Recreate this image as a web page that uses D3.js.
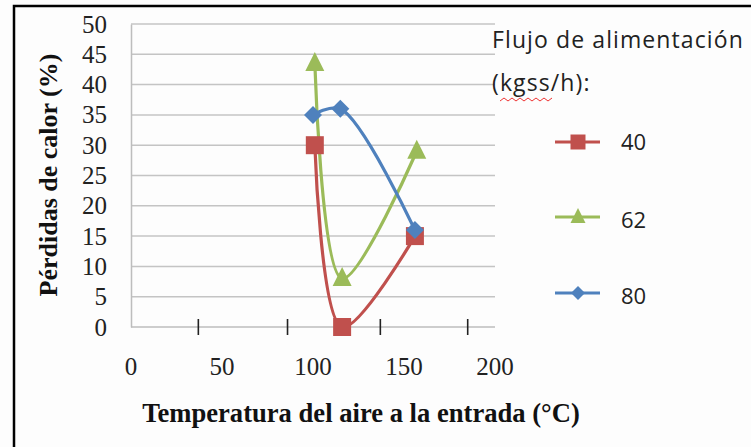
<!DOCTYPE html>
<html><head><meta charset="utf-8">
<script src="https://cdn.jsdelivr.net/npm/d3@7"></script>
<style>
html,body{margin:0;padding:0;background:#fff;}
svg{display:block;}
</style></head>
<body>
<svg id="chart" width="751" height="447"></svg>
<script>
const seriesNames = ["40", "62", "80"];
const xValues40 = [101, 116, 156];
const yValues40 = [30, 0, 15];
const xValues62 = [101, 116, 157];
const yValues62 = [43.5, 8, 29];
const xValues80 = [100, 115, 156];
const yValues80 = [35, 36, 16];
const xTickLabels = [0, 50, 100, 150, 200];
const xTickMarks = [37, 86, 137, 185];
const yTickLabels = [0, 5, 10, 15, 20, 25, 30, 35, 40, 45, 50];
const colors = ["#C0504D", "#9BBB59", "#4F81BD"];
const markers = ["square", "triangle", "diamond"];

const series = [
  {name: seriesNames[0], pts: xValues40.map((x,i)=>({x, y: yValues40[i]}))},
  {name: seriesNames[1], pts: xValues62.map((x,i)=>({x, y: yValues62[i]}))},
  {name: seriesNames[2], pts: xValues80.map((x,i)=>({x, y: yValues80[i]}))}
];

const svg = d3.select("#chart");
svg.append("rect").attr("x",0).attr("y",0).attr("width",751).attr("height",447).attr("fill","#fdfdfd");
// outer frame
svg.append("rect").attr("x",14).attr("y",6).attr("width",760).attr("height",460)
  .attr("fill","none").attr("stroke","#000").attr("stroke-width",2.5);

const x = d3.scaleLinear().domain([0,200]).range([131,495]);
const y = d3.scaleLinear().domain([0,50]).range([327,24]);

// gridlines
svg.append("g").selectAll("line").data(yTickLabels.filter(v=>v>0)).join("line")
  .attr("x1",x(0)).attr("x2",x(200)).attr("y1",d=>y(d)).attr("y2",d=>y(d))
  .attr("stroke","#C4C4C4").attr("stroke-width",1.5);

// y axis
const yAxis = d3.axisLeft(y).tickValues(yTickLabels).tickSize(0).tickPadding(24);
const gy = svg.append("g").attr("transform",`translate(${x(0)},0)`).call(yAxis);
gy.select(".domain").attr("stroke","#BDBDBD").attr("stroke-width",1.5);
gy.selectAll("text").attr("font-family","'Liberation Serif', 'Times New Roman', serif")
  .attr("font-size",25).attr("fill","#222");

// x axis line
const gx = svg.append("g").attr("transform",`translate(0,${y(0)})`);
gx.append("line").attr("x1",x(0)).attr("x2",x(200)).attr("y1",0).attr("y2",0)
  .attr("stroke","#BDBDBD").attr("stroke-width",1.5);
gx.selectAll("line.tk").data(xTickMarks).join("line").attr("class","tk")
  .attr("x1",d=>x(d)).attr("x2",d=>x(d)).attr("y1",-8).attr("y2",8)
  .attr("stroke","#222").attr("stroke-width",1.6);
gx.selectAll("text").data(xTickLabels).join("text")
  .attr("x",d=>x(d)).attr("y",48).attr("text-anchor","middle")
  .attr("font-family","'Liberation Serif', 'Times New Roman', serif")
  .attr("font-size",25).attr("fill","#222").text(d=>d);

// axis titles
svg.append("text").attr("x",361).attr("y",422).attr("text-anchor","middle")
  .attr("font-family","'Liberation Serif', 'Times New Roman', serif").attr("font-weight","bold")
  .attr("font-size",26.6).attr("fill","#111").text("Temperatura del aire a la entrada (°C)");
svg.append("text").attr("transform","translate(57,175) rotate(-90)").attr("text-anchor","middle")
  .attr("font-family","'Liberation Serif', 'Times New Roman', serif").attr("font-weight","bold")
  .attr("font-size",26).attr("fill","#111").text("Pérdidas de calor (%)");

// lines
const line = d3.line().x(d=>x(d.x)).y(d=>y(d.y)).curve(d3.curveCatmullRom.alpha(0.5));
function markerPath(type, s){
  if(type==="square") return d3.symbol(d3.symbolSquare, s*s)();
  if(type==="triangle"){ const h=s; return `M0,${-h*0.6}L${s/2},${h*0.4}L${-s/2},${h*0.4}Z`; }
  return `M0,${-s/2}L${s/2},0L0,${s/2}L${-s/2},0Z`;
}
series.forEach((s,i)=>{
  svg.append("path").datum(s.pts).attr("d",line).attr("fill","none")
    .attr("stroke",colors[i]).attr("stroke-width",3.2);
});
series.forEach((s,i)=>{
  const size = markers[i]==="square"?18:(markers[i]==="triangle"?19:18);
  svg.append("g").selectAll("path").data(s.pts).join("path")
    .attr("transform",d=>`translate(${x(d.x)},${y(d.y)})`)
    .attr("d",markerPath(markers[i],size)).attr("fill",colors[i]);
});

// legend
const sansFont = "'Open Sans', 'Liberation Sans', Arial, sans-serif";
svg.append("text").attr("x",492).attr("y",48).attr("font-family",sansFont).attr("font-size",23)
  .attr("letter-spacing",1.1).attr("fill","#222").text("Flujo de alimentación");
svg.append("text").attr("x",492).attr("y",91).attr("font-family",sansFont).attr("font-size",23)
  .attr("letter-spacing",1.1).attr("fill","#222").text("(kgss/h):");
// spellcheck squiggle
const wav = d3.range(0,14).map(i=>[500+i*4, i%2?98:101]);
svg.append("path").attr("d",d3.line()(wav)).attr("fill","none").attr("stroke","#e33").attr("stroke-width",1);

const legY = [142, 217, 293];
series.forEach((s,i)=>{
  const g = svg.append("g").attr("transform",`translate(0,${legY[i]})`);
  g.append("line").attr("x1",555).attr("x2",600).attr("y1",0).attr("y2",0)
    .attr("stroke",colors[i]).attr("stroke-width",3.2);
  g.append("path").attr("transform","translate(578,0)")
    .attr("d",markerPath(markers[i], markers[i]==="diamond"?14:15)).attr("fill",colors[i]);
  g.append("text").attr("x",621).attr("y",i===0?8:11).attr("font-family",sansFont).attr("font-size",22)
    .attr("fill","#222").text(s.name);
});
</script>
</body></html>
